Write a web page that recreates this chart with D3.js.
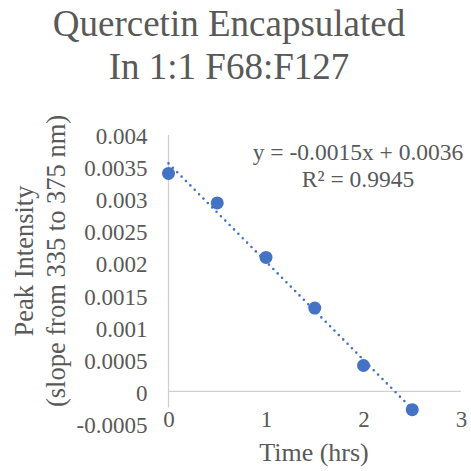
<!DOCTYPE html>
<html>
<head>
<meta charset="utf-8">
<script src="https://cdn.jsdelivr.net/npm/d3@7"></script>
<style>
	body { margin: 0; background: #fff; }
	svg text { font-family: 'Liberation Serif', 'Times New Roman', Times, 'DejaVu Serif', serif; }
</style>
</head>
<body>
<div class="chart"></div>
<script>
// chart data
const timeHrs = [ 0, 0.5, 1, 1.5, 2, 2.5 ];
const peakIntensity = [ 0.0034, 0.00294, 0.00209, 0.0013, 0.000405, -0.000285 ];
const yTickValues = [ -0.0005, 0, 0.0005, 0.001, 0.0015, 0.002, 0.0025, 0.003, 0.0035, 0.004 ];
const yTickLabels = [ '-0.0005', '0', '0.0005', '0.001', '0.0015', '0.002', '0.0025', '0.003', '0.0035', '0.004' ];
const xTickValues = [ 0, 1, 2, 3 ];
const xTickLabels = [ '0', '1', '2', '3' ];
const titleLines = [ 'Quercetin Encapsulated', 'In 1:1 F68:F127' ];
const yTitleLines = [ 'Peak Intensity', '(slope from 335 to 375 nm)' ];
const xTitle = 'Time (hrs)';
const equationLines = [ 'y = -0.0015x + 0.0036', 'R² = 0.9945' ];

const width = 471;
const height = 471;
const textColor = '#595959';
const axisColor = '#d0d0d0';
const pointColor = '#4472c4';
const serif = "'Liberation Serif', 'Times New Roman', Times, 'DejaVu Serif', serif";

const svg = d3.select('.chart').append('svg').attr('width', width).attr('height', height);

const x = d3.scaleLinear().domain([ 0, 3 ]).range([ 168.5, 461 ]);
const y = d3.scaleLinear().domain([ -0.0005, 0.004 ]).range([ 423.5, 135 ]);

const points = timeHrs.map((t, i) => ({ x: t, y: peakIntensity[i] }));

// title
svg
	.append('g')
	.selectAll('text')
	.data(titleLines)
	.join('text')
	.attr('x', 229)
	.attr('y', (d, i) => 36 + i * 43)
	.attr('text-anchor', 'middle')
	.attr('font-family', serif)
	.attr('font-size', 37)
	.attr('fill', textColor)
	.text((d) => d);

// axis lines
svg
	.append('line')
	.attr('x1', x(0))
	.attr('x2', x(3))
	.attr('y1', y(0))
	.attr('y2', y(0))
	.attr('stroke', axisColor)
	.attr('stroke-width', 1.3);

svg
	.append('line')
	.attr('x1', x(0))
	.attr('x2', x(0))
	.attr('y1', y(0.004))
	.attr('y2', y(-0.00025))
	.attr('stroke', axisColor)
	.attr('stroke-width', 1.3);

// y axis labels
const yAxis = (g) =>
	g
		.attr('transform', `translate(${x(0)},0)`)
		.call(
			d3.axisLeft(y).tickValues(yTickValues).tickSize(0).tickPadding(21).tickFormat((d, i) => yTickLabels[i])
		)
		.call((g) => g.select('.domain').remove())
		.call((g) => g.selectAll('text').attr('fill', textColor).attr('font-size', 23).attr('dy', '0.38em'));
svg.append('g').call(yAxis).attr('font-family', serif);

// x axis labels (low position)
const xAxis = (g) =>
	g
		.attr('transform', `translate(0,${y(-0.0005)})`)
		.call(d3.axisBottom(x).tickValues(xTickValues).tickSize(0).tickFormat((d, i) => xTickLabels[i]))
		.call((g) => g.select('.domain').remove())
		.call((g) =>
			g.selectAll('text').attr('fill', textColor).attr('font-size', 23).attr('y', 0).attr('dy', '0.13em')
		);
svg.append('g').call(xAxis).attr('font-family', serif);

// axis titles
svg
	.append('text')
	.attr('x', 314)
	.attr('y', 461)
	.attr('text-anchor', 'middle')
	.attr('font-family', serif)
	.attr('font-size', 26)
	.attr('fill', textColor)
	.text(xTitle);

svg
	.append('g')
	.selectAll('text')
	.data(yTitleLines)
	.join('text')
	.attr('transform', (d, i) => `translate(${24 + i * 32},261) rotate(-90)`)
	.attr('text-anchor', 'middle')
	.attr('dy', '0.35em')
	.attr('font-family', serif)
	.attr('font-size', 26.5)
	.attr('fill', textColor)
	.text((d) => d);

// linear trendline from the data
const xMean = d3.mean(points, (d) => d.x);
const yMean = d3.mean(points, (d) => d.y);
const slope =
	d3.sum(points, (d) => (d.x - xMean) * (d.y - yMean)) / d3.sum(points, (d) => (d.x - xMean) * (d.x - xMean));
const intercept = yMean - slope * xMean;
const trendX = d3.extent(timeHrs);

svg
	.append('line')
	.attr('x1', x(trendX[0]))
	.attr('y1', y(intercept + slope * trendX[0]))
	.attr('x2', x(trendX[1]))
	.attr('y2', y(intercept + slope * trendX[1]))
	.attr('stroke', pointColor)
	.attr('stroke-width', 2.6)
	.attr('stroke-linecap', 'round')
	.attr('stroke-dasharray', '0 6.2');

// points
svg
	.append('g')
	.selectAll('circle')
	.data(points)
	.join('circle')
	.attr('cx', (d) => x(d.x))
	.attr('cy', (d) => y(d.y))
	.attr('r', 6.5)
	.attr('fill', pointColor);

// equation label
svg
	.append('g')
	.selectAll('text')
	.data(equationLines)
	.join('text')
	.attr('x', 358)
	.attr('y', (d, i) => 160 + i * 27)
	.attr('text-anchor', 'middle')
	.attr('font-family', serif)
	.attr('font-size', 23.5)
	.attr('fill', textColor)
	.text((d) => d);
</script>
</body>
</html>
